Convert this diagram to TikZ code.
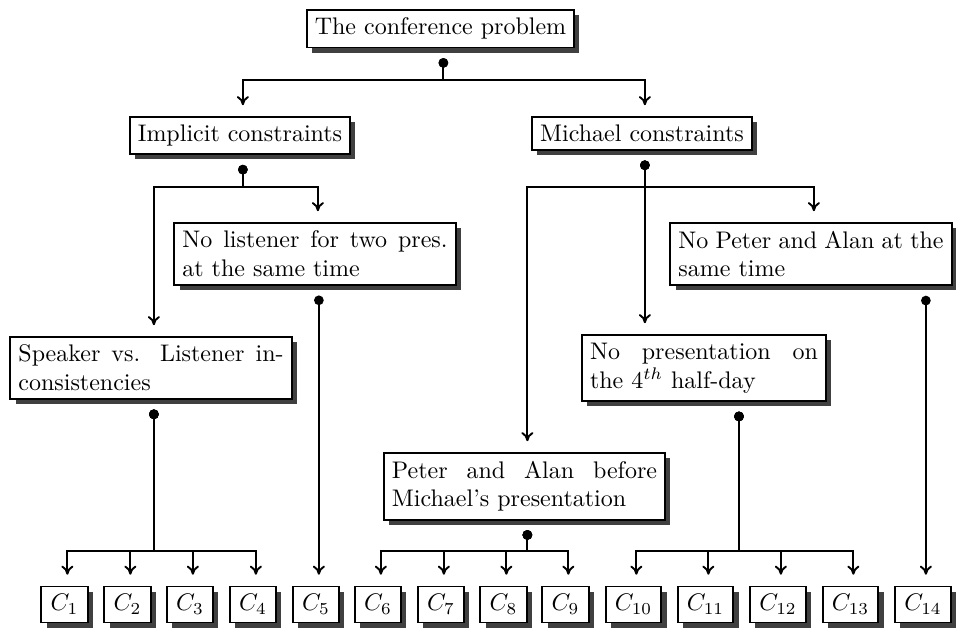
\documentclass[tikz,border=0pt]{standalone}
\usepackage{amssymb}
\usepackage{tikz}
\usetikzlibrary{positioning,shadows,arrows.meta}

\tikzset{
  box/.style={draw, line width=0.8pt, fill=white, anchor=north,
    drop shadow={opacity=1, fill=black!75}},
  note/.style={box, text width=110.5pt, align=justify},
  leaf/.style={draw, line width=0.8pt, fill=white, inner xsep=3.8pt,
    drop shadow={opacity=1, fill=black!75}},
  link/.style={line width=0.8pt, {Circle[length=4pt]}-{To[length=3.8pt,width=5pt]},
    shorten <=4pt, shorten >=4.5pt}
}

\begin{document}
\begin{tikzpicture}[x=0.4167pt, y=-0.4167pt]
  \useasboundingbox (0,0) rectangle (956,628);
  % constraints
  \node[box] (root) at (440.5,9) {The conference problem};
  \node[box] (impl) at (240,116) {Implicit constraints};
  \node[box] (mich) at (642,116) {Michael constraints};
  \node[note] (lis) at (315,222) {No listener for two pres. at the same time};
  \node[note] (alan) at (811,222) {No Peter and Alan at the same time};
  \node[note] (spk) at (151,336) {Speaker vs. Listener inconsistencies};
  \node[note, text width=95pt] (half) at (704,334) {No presentation on the $4^{th}$ half-day};
  \node[note] (order) at (524.5,452) {Peter and Alan before Michael's presentation};
  % leaves
  \foreach \i/\x in {1/64.5, 2/127.5, 3/190, 4/253, 5/316, 6/378, 7/441,
      8/503.5, 9/565.5, 10/633.5, 11/705.5, 12/778, 13/850.5, 14/923}
    \node[leaf] (c\i) at (\x,604.5) {$C_{\i}$};

  % link ends
  \foreach \i in {1,...,14}
    \coordinate (t\i) at ([xshift=1.2pt]c\i.north);
  \coordinate (rootdot) at ([xshift=1.2pt]root.south);
  \coordinate (impldot) at ([xshift=1.2pt]impl.south);
  \coordinate (michdot) at ([xshift=1.2pt]mich.south);
  \coordinate (spkdot) at ([xshift=1.2pt]spk.south);
  \coordinate (orderdot) at ([xshift=1.2pt]order.south);
  \coordinate (halfdot) at (half.south -| 739,0);

  % links
  \foreach \kid in {impl,mich}
    \draw[link] (rootdot) -- (rootdot |- 0,80) -| ([xshift=1.2pt]\kid.north);
  \foreach \kid in {spk,lis}
    \draw[link] (impldot) -- (impldot |- 0,187) -| ([xshift=1.2pt]\kid.north);
  \foreach \kid in {order,alan}
    \draw[link] (michdot) -- (michdot |- 0,187) -| ([xshift=1.2pt]\kid.north);
  \draw[link] (michdot) -- (michdot |- half.north);
  \draw[link] (lis.south -| t5) -- (t5);
  \draw[link] (alan.south -| t14) -- (t14);
  \foreach \i in {1,...,4}
    \draw[link] (spkdot) -- (spkdot |- 0,551) -| (t\i);
  \foreach \i in {6,...,9}
    \draw[link] (orderdot) -- (orderdot |- 0,551) -| (t\i);
  \foreach \i in {10,...,13}
    \draw[link] (halfdot) -- (halfdot |- 0,551) -| (t\i);
\end{tikzpicture}
\end{document}
